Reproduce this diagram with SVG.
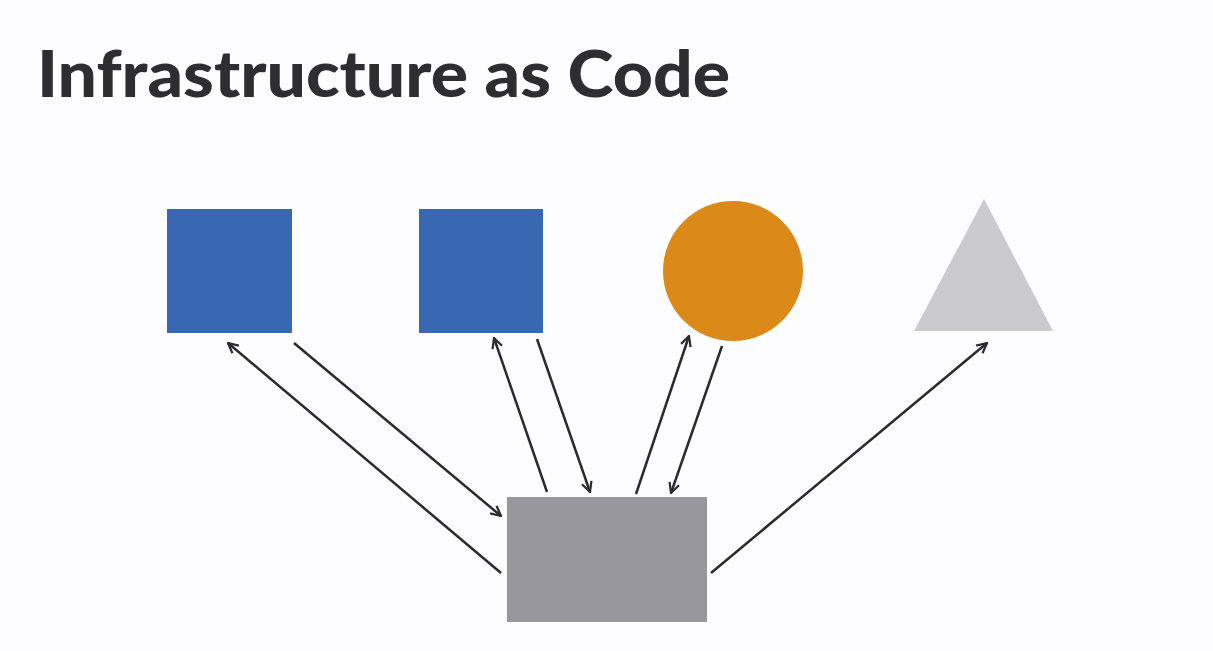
<svg xmlns="http://www.w3.org/2000/svg" width="1213" height="651" viewBox="0 0 1213 651">
<style>
.title{font-family:Lato,"Liberation Sans",sans-serif;font-weight:900;font-size:64px;fill:#2e2d30}
.conn{stroke:#2b2b2d;stroke-width:2.5;fill:none;marker-end:url(#arr)}
</style>
<defs>
<marker id="arr" viewBox="0 0 12 12" refX="11" refY="6" markerWidth="12" markerHeight="12" markerUnits="userSpaceOnUse" orient="auto">
<path d="M1,1 L11,6 L1,11" fill="none" stroke="#2b2b2d" stroke-width="2.2"/>
</marker>
</defs>
<rect width="1213" height="651" fill="#fdfcfe"/>
<text class="title" x="37" y="97" textLength="693" lengthAdjust="spacingAndGlyphs">Infrastructure as Code</text>
<g id="node-square1"><rect x="167" y="209" width="125" height="124" fill="#3a67b1"/></g>
<g id="node-square2"><rect x="419" y="209" width="124" height="124" fill="#3a67b1"/></g>
<g id="node-circle"><circle cx="733" cy="271" r="70" fill="#db8a1a"/></g>
<g id="node-triangle"><polygon points="984,199 914,331 1053,331" fill="#cbcacd"/></g>
<g id="node-server"><rect x="507" y="497" width="200" height="125" fill="#98979c"/></g>
<g id="connectors">
<line class="conn" x1="501" y1="573" x2="228" y2="343"/>
<line class="conn" x1="294" y1="343" x2="501" y2="516"/>
<line class="conn" x1="547" y1="492" x2="494" y2="338"/>
<line class="conn" x1="537" y1="339" x2="590" y2="492"/>
<line class="conn" x1="636" y1="494" x2="689" y2="336"/>
<line class="conn" x1="722" y1="346" x2="671" y2="493"/>
<line class="conn" x1="711" y1="573" x2="987" y2="343"/>
</g>
</svg>
